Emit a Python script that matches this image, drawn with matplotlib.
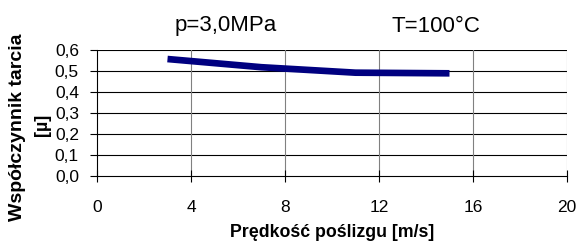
import matplotlib
matplotlib.use("Agg")
import matplotlib.pyplot as plt

speed = [3, 7, 11, 15]
friction = [0.557, 0.518, 0.492, 0.489]
x_ticks = [0, 4, 8, 12, 16, 20]
y_ticks = [0.0, 0.1, 0.2, 0.3, 0.4, 0.5, 0.6]
y_tick_labels = ["0,0", "0,1", "0,2", "0,3", "0,4", "0,5", "0,6"]

plt.rcParams['font.family'] = ['Liberation Sans', 'DejaVu Sans']

fig = plt.figure(figsize=(5.77, 2.44), dpi=100)
ax = fig.add_axes([97/577, 1-176/244, 470/577, 126/244])

ax.plot(speed, friction, color='#000080', lw=4.8, solid_capstyle='butt', zorder=3)

ax.set_xlim(0, 20)
ax.set_ylim(0, 0.6)
ax.set_xticks(x_ticks)
ax.set_xticklabels([str(v) for v in x_ticks], fontsize=12.5)
ax.set_yticks(y_ticks)
ax.set_yticklabels(y_tick_labels, fontsize=12.5)

for v in y_ticks[1:]:
    ax.axhline(v, color='black', lw=0.8, zorder=1)
for v in x_ticks[1:]:
    ax.axvline(v, color='#808080', lw=0.8, zorder=1)

for s in ['top', 'right']:
    ax.spines[s].set_visible(False)
ax.spines['left'].set_linewidth(0.8)
ax.spines['bottom'].set_linewidth(0.8)
ax.tick_params(axis='x', direction='inout', length=8, width=0.8, pad=13)
ax.tick_params(axis='y', direction='out', length=5, width=0.8, pad=8)

ax.set_xlabel("Prędkość poślizgu [m/s]", fontsize=12.8, fontweight='bold', labelpad=7)
fig.text(18/577, 1-127/244, "Współczynnik tarcia", rotation=90, fontsize=14,
         fontweight='bold', ha='center', va='center')
fig.text(43/577, 1-125/244, "[µ]", rotation=90, fontsize=13,
         fontweight='bold', ha='center', va='center')

fig.text(226/577, 1-26/244, "p=3,0MPa", fontsize=16, ha='center', va='center')
fig.text(436/577, 1-26/244, "T=100°C", fontsize=16, ha='center', va='center')

fig.savefig("out.png", dpi=100)
